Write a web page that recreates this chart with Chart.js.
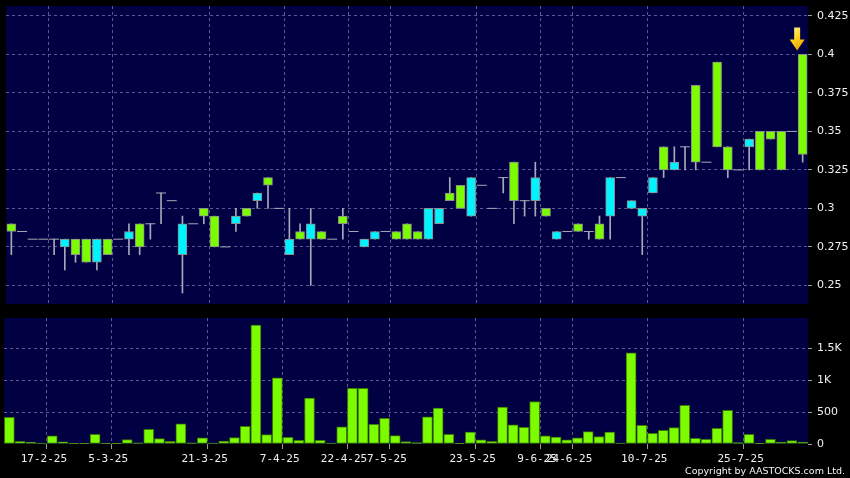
<!DOCTYPE html>
<html><head><meta charset="utf-8">
<script src="https://cdn.jsdelivr.net/npm/chart.js@4.4.0/dist/chart.umd.min.js"></script>
<style>
html,body{margin:0;padding:0;background:#000;width:850px;height:478px;overflow:hidden}
#c1{position:absolute;left:0;top:0}
#c2{position:absolute;left:0;top:310px}
#copy{position:absolute;right:5px;top:465px;color:#f4f4f4;font:9.5px "DejaVu Sans";line-height:11px;white-space:nowrap}
</style></head><body>
<canvas id="c1" width="850" height="310"></canvas>
<canvas id="c2" width="850" height="168"></canvas>
<div id="copy">Copyright by AASTOCKS.com Ltd.</div>
<script>
// ---- data (one entry per trading session shown) ----
const openP  = [0.285,0.285,0.28,0.28,0.28,0.28,0.27,0.265,0.28,0.27,0.28,0.285,0.275,0.29,0.31,0.305,0.29,0.29,0.295,0.275,0.275,0.295,0.295,0.31,0.315,0.3,0.28,0.28,0.29,0.28,0.28,0.29,0.285,0.28,0.285,0.285,0.28,0.28,0.28,0.3,0.3,0.305,0.3,0.32,0.315,0.3,0.32,0.305,0.305,0.32,0.295,0.285,0.285,0.285,0.285,0.28,0.32,0.32,0.305,0.3,0.32,0.325,0.33,0.34,0.33,0.33,0.34,0.325,0.325,0.345,0.325,0.345,0.325,0.35,0.335];
const highP  = [0.29,0.285,0.28,0.28,0.28,0.28,0.28,0.28,0.28,0.28,0.28,0.29,0.29,0.29,0.31,0.305,0.295,0.29,0.3,0.295,0.275,0.3,0.3,0.31,0.32,0.3,0.3,0.29,0.3,0.285,0.28,0.3,0.285,0.28,0.285,0.285,0.285,0.29,0.285,0.3,0.3,0.32,0.315,0.32,0.315,0.3,0.32,0.33,0.305,0.33,0.3,0.285,0.285,0.29,0.285,0.295,0.32,0.32,0.305,0.3,0.32,0.34,0.34,0.34,0.38,0.33,0.395,0.34,0.325,0.345,0.35,0.35,0.35,0.35,0.4];
const lowP   = [0.27,0.285,0.28,0.28,0.27,0.26,0.265,0.265,0.26,0.27,0.28,0.27,0.27,0.28,0.29,0.305,0.245,0.29,0.29,0.275,0.275,0.285,0.295,0.3,0.3,0.3,0.27,0.28,0.25,0.28,0.28,0.28,0.285,0.275,0.28,0.285,0.28,0.28,0.28,0.28,0.29,0.305,0.3,0.295,0.315,0.3,0.31,0.29,0.295,0.295,0.295,0.28,0.285,0.285,0.28,0.28,0.28,0.32,0.3,0.27,0.31,0.32,0.325,0.325,0.325,0.33,0.34,0.32,0.325,0.325,0.325,0.345,0.325,0.35,0.33];
const closeP = [0.29,0.285,0.28,0.28,0.28,0.275,0.28,0.28,0.265,0.28,0.28,0.28,0.29,0.29,0.31,0.305,0.27,0.29,0.3,0.295,0.275,0.29,0.3,0.305,0.32,0.3,0.27,0.285,0.28,0.285,0.28,0.295,0.285,0.275,0.28,0.285,0.285,0.29,0.285,0.28,0.29,0.31,0.315,0.295,0.315,0.3,0.32,0.33,0.305,0.305,0.3,0.28,0.285,0.29,0.285,0.29,0.295,0.32,0.3,0.295,0.31,0.34,0.325,0.34,0.38,0.33,0.395,0.34,0.325,0.34,0.35,0.35,0.35,0.35,0.4];
const volume = [420,40,25,15,130,35,5,5,150,10,3,70,20,230,84,42,316,20,95,15,47,100,279,1867,147,1041,105,58,721,58,15,268,873,873,310,405,131,37,21,426,566,153,3,188,65,42,579,303,263,668,130,108,66,98,195,116,189,16,1431,295,168,216,258,608,88,72,245,530,22,150,2,74,30,52,30];

const priceTicks  = [0.25,0.275,0.3,0.325,0.35,0.375,0.4,0.425];
const priceLabels = ['0.25','0.275','0.3','0.325','0.35','0.375','0.4','0.425'];
const volTicks    = [0,500,1000,1500];
const volLabels   = ['0','500','1K','1.5K'];
const dateTickPos = [3.5,9.5,18.5,25.5,31.5,35.5,43.5,49.5,52.5,59.5,68.5];
const dateLabels  = ['17-2-25','5-3-25','21-3-25','7-4-25','22-4-25','7-5-25','23-5-25','9-6-25','24-6-25','10-7-25','25-7-25'];

// ---- styles ----
const NAVY = '#000042';
const GRID = '#5a5a8e';
const UP = '#7cfc00', DOWN = '#00f4ff';
const EDGE = '#8c8c8c', WICK = '#a8a8b8';
const TXT = '#f0f0f0';

const n = closeP.length;
const idx = closeP.map((_, i) => i);
const wickData = idx.filter(i => lowP[i] < highP[i]).map(i => ({x: i, y: [lowP[i], highP[i]]}));
const bodyIdx = idx.filter(i => openP[i] !== closeP[i]);
const bodyData = bodyIdx.map(i => ({x: i, y: [Math.min(openP[i], closeP[i]), Math.max(openP[i], closeP[i])]}));
const bodyColors = bodyIdx.map(i => closeP[i] > openP[i] ? UP : DOWN);
const flatData = idx.filter(i => openP[i] === closeP[i]).map(i => ({x: i, y: closeP[i]}));
const volData = idx.map(i => ({x: i, y: volume[i]}));

Chart.defaults.font.family = 'DejaVu Sans';
Chart.defaults.color = TXT;

const noPad = s => { s.paddingTop = 0; s.paddingBottom = 0; s.paddingLeft = 0; s.paddingRight = 0; };

const navyBg = {
  id: 'navyBg',
  beforeDraw(chart) {
    const a = chart.chartArea, c = chart.ctx;
    c.save(); c.fillStyle = NAVY; c.fillRect(a.left, a.top, a.right - a.left, a.bottom - a.top); c.restore();
  }
};

const arrow = {
  id: 'arrow',
  afterDatasetsDraw(chart) {
    const xs = chart.scales.x, ys = chart.scales.y, c = chart.ctx;
    const last = n - 1;
    const cx = xs.getPixelForValue(last) - 5.5;
    const tip = ys.getPixelForValue(highP[last]) - 4;
    const g = c.createLinearGradient(cx - 8, tip - 23, cx + 8, tip);
    g.addColorStop(0, '#fff2a0'); g.addColorStop(0.45, '#ffd21e'); g.addColorStop(1, '#e09200');
    c.save();
    c.beginPath();
    c.moveTo(cx - 3, tip - 23); c.lineTo(cx + 3, tip - 23); c.lineTo(cx + 3, tip - 11);
    c.lineTo(cx + 7.5, tip - 11); c.lineTo(cx, tip); c.lineTo(cx - 7.5, tip - 11);
    c.lineTo(cx - 3, tip - 11); c.closePath();
    c.fillStyle = g; c.fill();
    c.restore();
  }
};

new Chart(document.getElementById('c1'), {
  data: {
    datasets: [
      {type: 'bar', data: wickData, backgroundColor: WICK, borderWidth: 0, barThickness: 1, grouped: false, order: 3},
      {type: 'bar', data: bodyData, backgroundColor: bodyColors, borderColor: EDGE, borderWidth: 1, borderSkipped: false, barThickness: 9, grouped: false, order: 2},
      {type: 'line', data: flatData, showLine: false, pointStyle: 'line', pointRadius: 5, pointHoverRadius: 5, borderColor: WICK, pointBorderColor: WICK, pointBorderWidth: 1, order: 1}
    ]
  },
  options: {
    responsive: false, devicePixelRatio: 1, animation: false, events: [],
    layout: {padding: {left: 4, top: 5, right: 0, bottom: 5}},
    plugins: {legend: {display: false}, tooltip: {enabled: false}},
    scales: {
      x: {type: 'linear', min: -0.5, max: 74.5, offset: false,
          afterBuildTicks: s => { s.ticks = dateTickPos.map(v => ({value: v})); },
          afterFit: s => { s.height = 0; noPad(s); },
          ticks: {display: false},
          grid: {color: GRID, drawTicks: false, offset: false},
          border: {display: false, dash: [3, 3]}},
      y: {position: 'right', min: 0.2379, max: 0.43145,
          afterBuildTicks: s => { s.ticks = priceTicks.map(v => ({value: v})); },
          afterFit: s => { s.width = 42; noPad(s); },
          ticks: {callback: (v, i) => priceLabels[i], font: {size: 11}, color: TXT, padding: 5},
          grid: {color: GRID, tickColor: '#9a9a9a', tickLength: 4, tickBorderDash: []},
          border: {display: false, dash: [3, 3]}}
    }
  },
  plugins: [navyBg, arrow]
});

new Chart(document.getElementById('c2'), {
  data: {
    datasets: [
      {type: 'bar', data: volData, backgroundColor: UP, borderColor: '#3d7a00', borderWidth: 1, borderSkipped: false, barThickness: 10, grouped: false}
    ]
  },
  options: {
    responsive: false, devicePixelRatio: 1, animation: false, events: [],
    layout: {padding: {left: 4, top: 8, right: 0, bottom: 0}},
    plugins: {legend: {display: false}, tooltip: {enabled: false}},
    scales: {
      x: {type: 'linear', min: -0.5, max: 74.5, offset: false,
          afterBuildTicks: s => { s.ticks = dateTickPos.map(v => ({value: v})); },
          afterFit: s => { s.height = 34; noPad(s); },
          ticks: {callback: (v, i) => dateLabels[i], autoSkip: false, maxRotation: 0, font: {family: 'DejaVu Sans Mono', size: 11}, color: TXT, padding: 4, labelOffset: -3},
          grid: {color: GRID, tickColor: '#9a9a9a', tickLength: 5, offset: false, tickBorderDash: []},
          border: {display: false, dash: [3, 3]}},
      y: {position: 'right', min: 0, max: 1979,
          afterBuildTicks: s => { s.ticks = volTicks.map(v => ({value: v})); },
          afterFit: s => { s.width = 42; noPad(s); },
          ticks: {callback: (v, i) => volLabels[i], font: {size: 11}, color: TXT, padding: 5},
          grid: {color: c => c.tick && c.tick.value === 0 ? 'rgba(0,0,0,0)' : GRID, tickColor: '#9a9a9a', tickLength: 4, tickBorderDash: []},
          border: {display: false, dash: [3, 3]}}
    }
  },
  plugins: [navyBg]
});
</script>
</body></html>
